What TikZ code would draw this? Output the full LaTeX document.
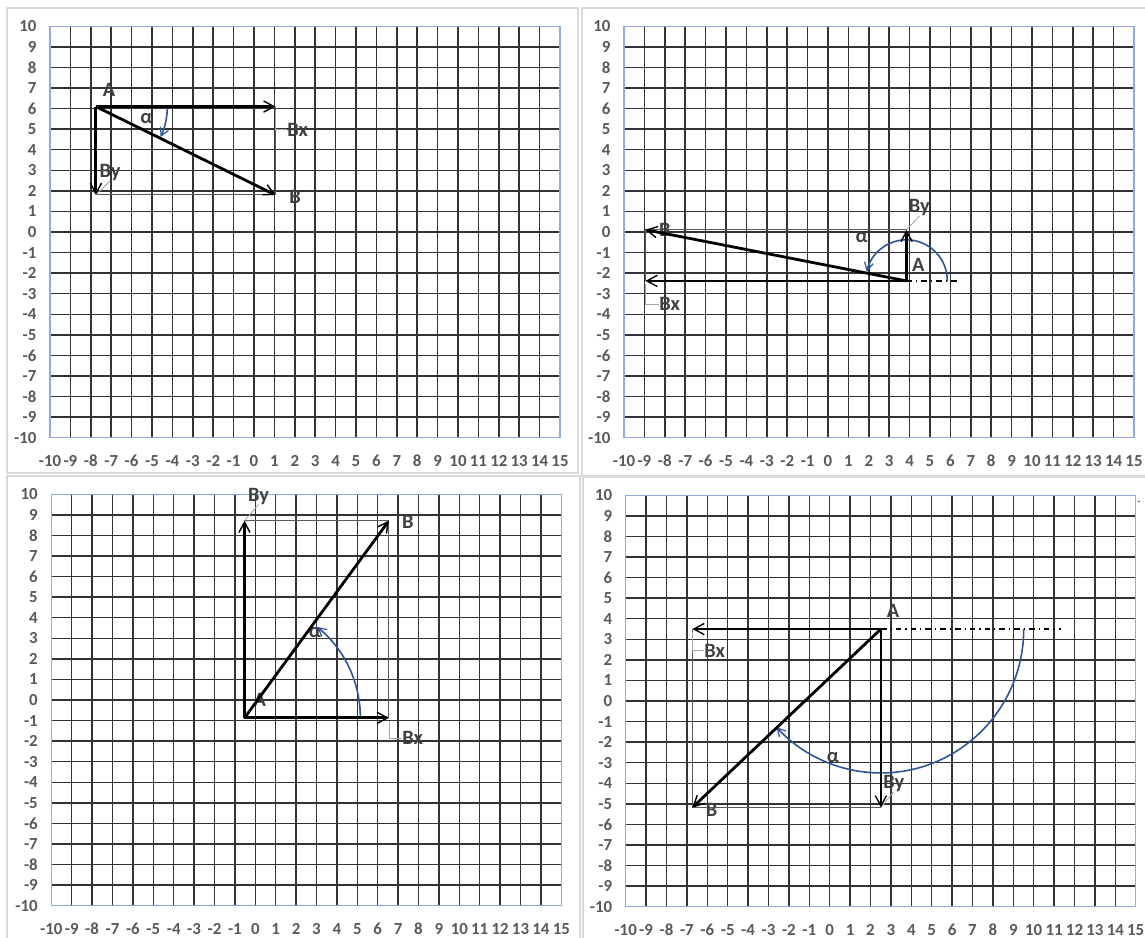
\documentclass[tikz,border=0pt]{standalone}
\usepackage{fontspec}
\setmainfont{Carlito}
\usepackage{tikz}
\usetikzlibrary{arrows.meta,positioning}
\usepackage{xcolor}
\definecolor{framegray}{HTML}{D9D9D9}
\definecolor{plotblue}{HTML}{8FAADC}
\definecolor{axisgray}{HTML}{595959}
\definecolor{lblgray}{HTML}{404040}
\definecolor{compgray}{HTML}{595959}
\definecolor{leadgray}{HTML}{A6A6A6}
\definecolor{arcblue}{HTML}{2F5597}

\begin{document}
\begin{tikzpicture}[
    x=0.25mm, y=0.25mm,
    panelbox/.style={draw=framegray, line width=0.4mm},
    gridline/.style={line width=0.36mm, draw=black!80},
    plotframe/.style={draw=plotblue, line width=0.35mm},
    ticklbl/.style={font=\fontsize{12}{14}\selectfont\bfseries, text=axisgray, inner sep=0pt},
    lbl/.style={font=\fontsize{14.5}{16}\selectfont\bfseries, text=lblgray, inner sep=0pt},
    vec/.style={line width=0.7mm, -{Straight Barb[length=2.6mm,width=2.8mm,line width=0.35mm]}},
    comp/.style={line width=0.25mm, draw=compgray},
    lead/.style={line width=0.2mm, draw=leadgray},
    angarc/.style={line width=0.4mm, draw=arcblue, -{Straight Barb[length=2mm,width=2.2mm,line width=0.3mm]}},
    refline/.style={line width=0.35mm, dash pattern=on 1.4mm off 1mm on 0.3mm off 1mm},
  ]

  \useasboundingbox (0,0) rectangle (1145,938);
  \fill[white] (0,0) rectangle (1145,938);

  % chart areas
  \draw[panelbox] (7,465) rectangle (578,930);
  \draw[panelbox] (582,462) rectangle (1160,930);
  \draw[panelbox] (7,-10) rectangle (580,462);
  \draw[panelbox] (583,-10) rectangle (1160,461);
  \node[font=\fontsize{8}{8}\selectfont, inner sep=0pt] (dot) at (1139,436) {.};

  % grids and axis numbers
  \foreach \ox/\oy/\p in {254/706/1, 828/706/2, 255.3/238/3, 829.7/237/4} {
    \begin{scope}[shift={(\ox,\oy)}, x=5.1mm, y=5.14mm]
      \foreach \u in {-9,...,14} \draw[gridline] (\u,-10) -- (\u,10);
      \foreach \v in {-9,...,9} \draw[gridline] (-10,\v) -- (15,\v);
      \draw[plotframe] (-10,-10) rectangle (15,10);
      \foreach \v in {-10,...,10}
        \node[ticklbl, anchor=east] (y\p-\v) at (-10.65,\v) {\v};
      \foreach \u in {-10,...,15}
        \node[ticklbl] (x\p-\u) at (\u,-11.12) {\u};
    \end{scope}
  }

  % panel 1
  \begin{scope}[shift={(254,706)}, x=5.1mm, y=5.14mm]
    \coordinate (A1) at (-7.75,6.1);
    \coordinate (B1) at (1.05,1.8);
    \coordinate (Bx1) at (1.05,6.1);
    \coordinate (By1) at (-7.75,1.8);
    \draw[comp] (By1) -- (B1) -- (Bx1);
    \node[lbl] (lblA1) at (-7.1,6.9) {A};
    \node[lbl] (alpha1) at (-5.27,5.5) {α};
    \node[lbl, anchor=west] (lblBx1) at (1.62,4.98) {Bx};
    \node[lbl] (lblBy1) at (-7.05,2.9) {By};
    \node[lbl] (lblB1) at (2.02,1.72) {B};
    \draw[lead] (Bx1) ++(0,-0.15) |- (lblBx1.west);
    \draw[lead] (By1) -- (lblBy1.south);
    \draw[angarc] (A1) ++(3.5,0) arc[start angle=0, end angle=-25, radius=3.5];
    \draw[vec] (A1) -- (Bx1);
    \draw[vec] (A1) -- (By1);
    \draw[vec] (A1) -- (B1);
  \end{scope}

  % panel 2
  \begin{scope}[shift={(828,706)}, x=5.1mm, y=5.14mm]
    \coordinate (A2) at (3.85,-2.38);
    \coordinate (B2) at (-8.95,0.11);
    \coordinate (Bx2) at (-8.95,-2.38);
    \coordinate (By2) at (3.85,0.11);
    \coordinate (R2) at (6.4,-2.38);
    \draw[comp] (By2) -- (B2) -- (Bx2);
    \draw[refline] (A2) -- (R2);
    \node[lbl] (lblB2) at (-8.0,0.12) {B};
    \node[lbl] (lblA2) at (4.43,-1.62) {A};
    \node[lbl] (alpha2) at (1.65,-0.25) {α};
    \node[lbl] (lblBy2) at (4.48,1.19) {By};
    \node[lbl, anchor=west] (lblBx2) at (-8.28,-3.52) {Bx};
    \draw[lead] (Bx2) ++(0,-0.15) |- (lblBx2.west);
    \draw[lead] (By2) -- (lblBy2.south);
    \draw[angarc] (A2) ++(2,0) arc[start angle=0, end angle=167, radius=2];
    \draw[vec] (A2) -- (Bx2);
    \draw[vec] (A2) -- (By2);
    \draw[vec] (A2) -- (B2);
  \end{scope}

  % panel 3
  \begin{scope}[shift={(255.3,238)}, x=5.1mm, y=5.14mm]
    \coordinate (A3) at (-0.53,-0.87);
    \coordinate (B3) at (6.55,8.72);
    \coordinate (Bx3) at (6.55,-0.87);
    \coordinate (By3) at (-0.53,8.72);
    \draw[comp] (By3) -- (B3) -- (Bx3);
    \node[lbl] (lblA3) at (0.22,0.02) {A};
    \node[lbl] (alpha3) at (2.92,3.3) {α};
    \node[lbl] (lblB3) at (7.48,8.64) {B};
    \node[lbl] (lblBy3) at (0.16,9.92) {By};
    \node[lbl, anchor=west] (lblBx3) at (7.2,-1.85) {Bx};
    \draw[lead] (Bx3) ++(0,-0.15) |- (lblBx3.west);
    \draw[lead] (By3) -- (lblBy3.south);
    \draw[angarc] (A3) ++(5.68,0) arc[start angle=0, end angle=51, radius=5.68];
    \draw[vec] (A3) -- (Bx3);
    \draw[vec] (A3) -- (By3);
    \draw[vec] (A3) -- (B3);
  \end{scope}

  % panel 4
  \begin{scope}[shift={(829.7,237)}, x=5.1mm, y=5.14mm]
    \coordinate (A4) at (2.51,3.5);
    \coordinate (B4) at (-6.73,-5.18);
    \coordinate (Bx4) at (-6.73,3.5);
    \coordinate (By4) at (2.51,-5.18);
    \coordinate (R4) at (11.35,3.5);
    \draw[comp] (Bx4) -- (B4) -- (By4);
    \draw[refline] (A4) -- (R4);
    \node[lbl] (lblA4) at (3.1,4.37) {A};
    \node[lbl] (alpha4) at (0.16,-2.73) {α};
    \node[lbl] (lblBy4) at (3.14,-4.0) {By};
    \node[lbl] (lblB4) at (-5.79,-5.29) {B};
    \node[lbl, anchor=west] (lblBx4) at (-6.16,2.45) {Bx};
    \draw[lead] (Bx4) ++(0,-0.15) |- (lblBx4.west);
    \draw[lead] (By4) -- (lblBy4.south);
    \draw[angarc] (A4) ++(7,0) arc[start angle=0, end angle=-137, radius=7];
    \draw[vec] (A4) -- (Bx4);
    \draw[vec] (A4) -- (By4);
    \draw[vec] (A4) -- (B4);
  \end{scope}

\end{tikzpicture}
\end{document}
